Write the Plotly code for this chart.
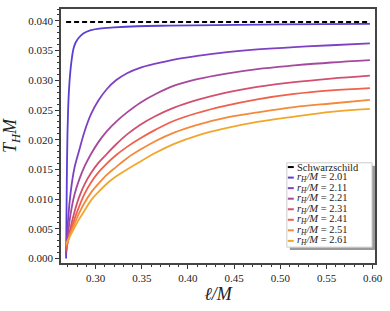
import plotly.graph_objects as go

# ---------------- data ----------------
r_labels = ["2.01", "2.11", "2.21", "2.31", "2.41", "2.51", "2.61"]
colors = ["#5b3ed3", "#7e41c3", "#a5499c", "#d2506f", "#f0604b", "#f5893b", "#f2a72c"]

# r_H/M = 2.01 (very steep rise, its own sampling)
ell_201 = [0.2680, 0.2683, 0.2686, 0.2690, 0.2695, 0.2702, 0.2712, 0.2725, 0.2740, 0.2760, 0.2785,
           0.2820, 0.2870, 0.2940, 0.3040, 0.3200, 0.3450, 0.3800, 0.4300, 0.5000, 0.5970]
T_201 = [0.0000, 0.0050, 0.0100, 0.0160, 0.0210, 0.0250, 0.0285, 0.0313, 0.0334, 0.0353, 0.0364,
         0.0372, 0.0379, 0.0384, 0.0387, 0.0389, 0.0391, 0.0392, 0.0393, 0.0394, 0.0395]

# common sampling of l/M for the other curves
ell = [0.268, 0.270, 0.273, 0.277, 0.282, 0.288, 0.295, 0.303, 0.312, 0.322,
       0.334, 0.348, 0.365, 0.385, 0.410, 0.440, 0.475, 0.515, 0.555, 0.597]
T_211 = [0.0005, 0.0062, 0.0112, 0.0152, 0.0181, 0.0214, 0.0243, 0.0266, 0.0285, 0.0300,
         0.0312, 0.0321, 0.0328, 0.0335, 0.0341, 0.0347, 0.0352, 0.0356, 0.0359, 0.0362]
T_221 = [0.0009, 0.0041, 0.0076, 0.0107, 0.0132, 0.0155, 0.0176, 0.0196, 0.0214, 0.0230,
         0.0246, 0.0262, 0.0277, 0.0291, 0.0302, 0.0311, 0.0319, 0.0325, 0.0330, 0.0334]
T_231 = [0.0013, 0.0030, 0.0053, 0.0078, 0.0103, 0.0125, 0.0144, 0.0161, 0.0176, 0.0192,
         0.0209, 0.0225, 0.0240, 0.0254, 0.0267, 0.0279, 0.0289, 0.0297, 0.0303, 0.0308]
T_241 = [0.0017, 0.0029, 0.0046, 0.0066, 0.0087, 0.0109, 0.0128, 0.0145, 0.0160, 0.0174,
         0.0188, 0.0202, 0.0217, 0.0232, 0.0245, 0.0257, 0.0268, 0.0277, 0.0283, 0.0287]
T_251 = [0.0021, 0.0030, 0.0043, 0.0058, 0.0076, 0.0094, 0.0111, 0.0126, 0.0141, 0.0154,
         0.0169, 0.0183, 0.0198, 0.0212, 0.0225, 0.0237, 0.0246, 0.0255, 0.0261, 0.0267]
T_261 = [0.0025, 0.0031, 0.0040, 0.0052, 0.0066, 0.0081, 0.0098, 0.0112, 0.0126, 0.0138,
         0.0150, 0.0163, 0.0178, 0.0193, 0.0207, 0.0219, 0.0230, 0.0239, 0.0247, 0.0252]

ell_schw = [0.2680, 0.5970]
T_schw = [0.0398, 0.0398]

x_ticks = [0.30, 0.35, 0.40, 0.45, 0.50, 0.55, 0.60]
y_ticks = [0.000, 0.005, 0.010, 0.015, 0.020, 0.025, 0.030, 0.035, 0.040]

series = [(ell_201, T_201), (ell, T_211), (ell, T_221), (ell, T_231),
          (ell, T_241), (ell, T_251), (ell, T_261)]

FONT = "Liberation Serif, Times New Roman, serif"

fig = go.Figure()
fig.add_trace(go.Scatter(x=ell_schw, y=T_schw, mode="lines", name="Schwarzschild",
                         line=dict(color="black", width=2, dash="5px,3px"), showlegend=False))
for (ex, ty), lab, c in zip(series, r_labels, colors):
    fig.add_trace(go.Scatter(x=ex, y=ty, mode="lines", name="r_H/M = " + lab,
                             line=dict(color=c, width=1.8, shape="spline", smoothing=1.0),
                             showlegend=False))

# ---------------- layout ----------------
W, H = 390, 311
ML, MR, MT, MB = 61, 12, 7, 48
pw, ph = W - ML - MR, H - MT - MB


def xp(px):
    return (px - ML) / pw


def yp(py):
    return (H - MB - py) / ph


axis_common = dict(showline=True, linecolor="#444", linewidth=1.5, mirror=True,
                   ticks="outside", ticklen=4, tickwidth=1, tickcolor="#333",
                   showgrid=False, zeroline=False, ticklabeloverflow="allow",
                   tickfont=dict(family=FONT, size=11, color="#222"))

fig.update_layout(
    width=W, height=H,
    margin=dict(l=ML, r=MR, t=MT, b=MB),
    plot_bgcolor="white", paper_bgcolor="white",
    font=dict(family=FONT, color="#222"),
    xaxis=dict(range=[0.2625, 0.6025], tickvals=x_ticks, tickformat=".2f",
               minor=dict(dtick=0.01, tick0=0, ticks="outside", ticklen=2, tickcolor="#333"),
               title=dict(text="<i>ℓ/M</i>", font=dict(family=FONT, size=18), standoff=4),
               **axis_common),
    yaxis=dict(range=[-0.00074, 0.0420], tickvals=y_ticks, tickformat=".3f",
               minor=dict(dtick=0.001, tick0=0, ticks="outside", ticklen=2, tickcolor="#333"),
               title=dict(text="<i>T</i><sub><i>H</i></sub><i>M</i>", font=dict(family=FONT, size=18), standoff=8),
               **axis_common),
)

# ---------------- legend (drawn manually for compact symbols) ----------------
bx0, bx1, by0, by1 = 289, 375, 162, 247
fig.add_shape(type="rect", xref="paper", yref="paper",
              x0=xp(bx0 + 3), x1=xp(bx1 + 3), y0=yp(by1 + 3), y1=yp(by0 + 3),
              fillcolor="#9a9a9a", line=dict(width=0), layer="above")
fig.add_shape(type="rect", xref="paper", yref="paper",
              x0=xp(bx0), x1=xp(bx1), y0=yp(by1), y1=yp(by0),
              fillcolor="white", line=dict(color="#cccccc", width=1), layer="above")

leg_names = ["Schwarzschild"] + ["<i>r</i><sub><i>H</i></sub><i>/M</i> = " + r for r in r_labels]
leg_colors = ["black"] + colors
row0, dy = 166.3, 10.63
for i, (nm, c) in enumerate(zip(leg_names, leg_colors)):
    py = row0 + i * dy
    fig.add_shape(type="line", xref="paper", yref="paper",
                  x0=xp(290), x1=xp(296), y0=yp(py), y1=yp(py),
                  line=dict(color=c, width=2), layer="above")
    fig.add_annotation(xref="paper", yref="paper", x=xp(297), y=yp(py),
                       text=nm, showarrow=False, xanchor="left", yanchor="middle",
                       font=dict(family=FONT, size=10.5, color="#222"))

fig.write_html("out.html", config={"displayModeBar": False},
               post_script="document.body.style.margin='0px';")
